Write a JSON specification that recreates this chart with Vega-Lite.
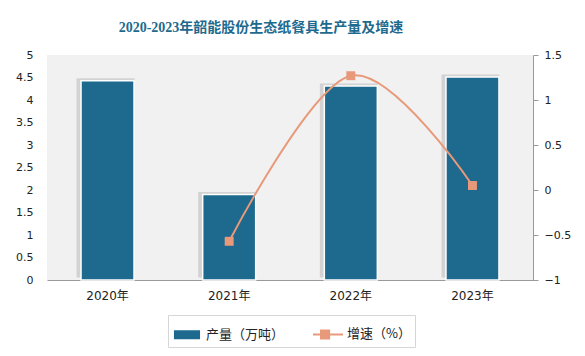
{
  "$schema": "https://vega.github.io/schema/vega-lite/v6.json",
  "width": 486,
  "height": 225,
  "autosize": {"type": "none"},
  "padding": {"left": 47, "top": 55, "right": 52, "bottom": 76},
  "background": "white",
  "title": {
    "text": "2020-2023年韶能股份生态纸餐具生产量及增速",
    "font": "Liberation Serif, Noto Sans CJK SC",
    "fontSize": 14,
    "fontWeight": "bold",
    "color": "#1d6a8e",
    "anchor": "middle",
    "dx": -29,
    "offset": 14
  },
  "config": {
    "view": {"fill": "#f1f1f1", "stroke": null},
    "axis": {"labelFont": "DejaVu Sans, Noto Sans CJK SC", "labelColor": "#222", "labelFontSize": 11, "grid": false},
    "legend": {
      "orient": "none",
      "legendX": 121,
      "legendY": 260,
      "direction": "horizontal",
      "labelFontSize": 13,
      "labelFont": "Noto Sans CJK SC",
      "labelColor": "#222",
      "symbolSize": 784,
      "columnPadding": 24,
      "labelOffset": 4,
      "padding": 4,
      "strokeColor": "#d6d6d6",
      "fillColor": "white"
    }
  },
  "data": {
    "values": [
      {"year": "2020年", "output": 4.43, "growth": null},
      {"year": "2021年", "output": 1.9, "growth": -0.57},
      {"year": "2022年", "output": 4.31, "growth": 1.27},
      {"year": "2023年", "output": 4.51, "growth": 0.05}
    ]
  },
  "encoding": {
    "x": {
      "field": "year",
      "type": "nominal",
      "scale": {"paddingInner": 0.565, "paddingOuter": 0.28},
      "axis": {"title": null, "labelAngle": 0, "ticks": false, "domainColor": "#999", "labelPadding": 10, "labelFontSize": 12, "labelFont": "DejaVu Sans, Noto Sans CJK SC"}
    }
  },
  "layer": [
    {
      "mark": {"type": "bar", "size": 58, "xOffset": -2, "yOffset": -2.5, "color": "#a8a8a8", "opacity": 0.4},
      "encoding": {
        "y": {"field": "output", "type": "quantitative", "scale": {"domain": [0, 5]}, "axis": null}
      }
    },
    {
      "mark": {"type": "bar", "size": 53, "stroke": "white", "strokeWidth": 1.5},
      "encoding": {
        "y": {
          "field": "output",
          "type": "quantitative",
          "scale": {"domain": [0, 5]},
          "axis": {"title": null, "format": "~g", "values": [0, 0.5, 1, 1.5, 2, 2.5, 3, 3.5, 4, 4.5, 5], "domain": false, "ticks": false, "labelPadding": 14}
        },
        "color": {
          "datum": "产量（万吨）",
          "type": "nominal",
          "scale": {"domain": ["产量（万吨）", "增速（%）"], "range": ["#1d6a8e", "#e8997a"]},
          "legend": {
            "title": null,
            "encode": {
              "symbols": {
                "update": {
                  "shape": {"signal": "datum.value === '产量（万吨）' ? 'M-0.86,-0.25H0.86V0.25H-0.86Z' : 'M-1.07,0H1.07M-0.5,-0.29H0.08V0.29H-0.5Z'"},
                  "fill": {"signal": "datum.value === '产量（万吨）' ? '#1d6a8e' : '#e8997a'"},
                  "stroke": {"signal": "datum.value === '产量（万吨）' ? 'transparent' : '#e8997a'"},
                  "strokeWidth": {"value": 2},
                  "opacity": {"value": 1}
                }
              }
            }
          }
        }
      }
    },
    {
      "transform": [{"filter": "datum.growth != null"}],
      "mark": {"type": "line", "interpolate": "cardinal", "strokeWidth": 2, "point": {"shape": "square", "size": 80, "filled": true, "opacity": 1}},
      "encoding": {
        "y": {
          "field": "growth",
          "type": "quantitative",
          "scale": {"domain": [-1, 1.5]},
          "axis": {"title": null, "format": "~g", "orient": "right", "values": [-1, -0.5, 0, 0.5, 1, 1.5], "domainColor": "#999", "tickColor": "#999", "tickSize": 5, "labelPadding": 6}
        },
        "color": {
          "datum": "增速（%）",
          "type": "nominal",
          "legend": {
            "title": null,
            "encode": {
              "symbols": {
                "update": {
                  "shape": {"signal": "datum.value === '产量（万吨）' ? 'M-0.86,-0.25H0.86V0.25H-0.86Z' : 'M-1.07,0H1.07M-0.5,-0.29H0.08V0.29H-0.5Z'"},
                  "fill": {"signal": "datum.value === '产量（万吨）' ? '#1d6a8e' : '#e8997a'"},
                  "stroke": {"signal": "datum.value === '产量（万吨）' ? 'transparent' : '#e8997a'"},
                  "strokeWidth": {"value": 2},
                  "opacity": {"value": 1}
                }
              }
            }
          }
        }
      }
    }
  ],
  "resolve": {"scale": {"y": "independent"}}
}
